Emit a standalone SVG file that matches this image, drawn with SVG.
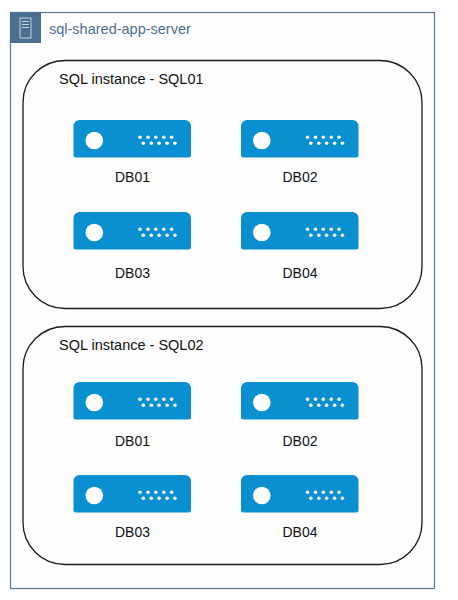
<svg xmlns="http://www.w3.org/2000/svg" width="458" height="600" viewBox="0 0 458 600">
<style>
text{font-family:"Liberation Sans",Arial,sans-serif;font-size:14px;fill:#111}
.db{text-anchor:middle}
.wide{font-size:14.500px}
.inst{fill:none;stroke:#1a1a1a;stroke-width:1.300}
</style>
<defs>
<g id="srv">
<path d="M6 0H111.500a6 6 0 0 1 6 6V35a2.500 2.500 0 0 1-2.500 2.500H2.500a2.500 2.500 0 0 1-2.500-2.500V6a6 6 0 0 1 6-6z" fill="#0a8fd0"/>
<circle cx="20.800" cy="20.500" r="8.800" fill="#fff"/>
<g fill="#fff">
<circle cx="66.500" cy="17.300" r="1.800"/><circle cx="74.500" cy="17.300" r="1.800"/><circle cx="82.300" cy="17.300" r="1.800"/><circle cx="90.300" cy="17.300" r="1.800"/><circle cx="98.100" cy="17.300" r="1.800"/>
<circle cx="69.800" cy="23.300" r="1.800"/><circle cx="77.800" cy="23.300" r="1.800"/><circle cx="85.600" cy="23.300" r="1.800"/><circle cx="93.600" cy="23.300" r="1.800"/><circle cx="101.400" cy="23.300" r="1.800"/>
</g>
</g>
</defs>
<rect width="458" height="600" fill="#fff"/>
<g id="server">
<rect x="10.500" y="12.500" width="424" height="576" fill="#fdfdfd" stroke="#5a7a9a" stroke-width="1.200"/>
<rect x="10" y="12" width="31" height="31" fill="#4a6f91"/>
<g fill="none" stroke="#c5d3df" stroke-width="1">
<rect x="20" y="18" width="11" height="20"/>
<path d="M22 21.500H29M22 24.500H29M22 27.500H29"/>
</g>
<text class="wide" x="49" y="34" style="fill:#4f6f8f">sql-shared-app-server</text>
</g>
<g id="instance-1">
<rect class="inst" x="23" y="60.500" width="399" height="248" rx="42"/>
<text class="wide" x="59" y="84">SQL instance - SQL01</text>
</g>
<g id="instance-2">
<rect class="inst" x="23" y="326.500" width="399" height="238" rx="42"/>
<text class="wide" x="59" y="350">SQL instance - SQL02</text>
</g>
<g id="s1-db01"><use href="#srv" x="73.500" y="120"/><text class="db" x="132.500" y="182">DB01</text></g>
<g id="s1-db02"><use href="#srv" x="241" y="120"/><text class="db" x="300" y="182">DB02</text></g>
<g id="s1-db03"><use href="#srv" x="73.500" y="212"/><text class="db" x="132.500" y="278">DB03</text></g>
<g id="s1-db04"><use href="#srv" x="241" y="212"/><text class="db" x="300" y="278">DB04</text></g>
<g id="s2-db01"><use href="#srv" x="73.500" y="382"/><text class="db" x="132.500" y="446">DB01</text></g>
<g id="s2-db02"><use href="#srv" x="241" y="382"/><text class="db" x="300" y="446">DB02</text></g>
<g id="s2-db03"><use href="#srv" x="73.500" y="475"/><text class="db" x="132.500" y="537">DB03</text></g>
<g id="s2-db04"><use href="#srv" x="241" y="475"/><text class="db" x="300" y="537">DB04</text></g>
<g id="connectors"/>
</svg>
